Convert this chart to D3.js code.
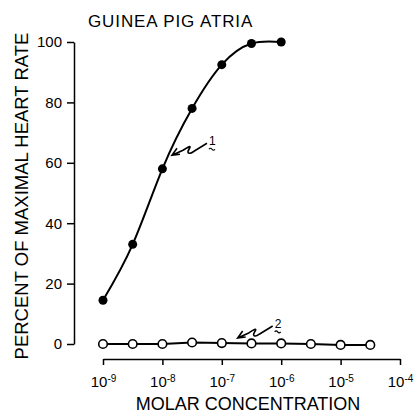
<!DOCTYPE html>
<html>
<head>
<meta charset="utf-8">
<script src="https://cdn.jsdelivr.net/npm/d3@7"></script>
<style>
  body { margin: 0; background: #fff; }
  svg { display: block; font-family: "Liberation Sans", Arial, sans-serif; }
  .axis path, .axis line { stroke: #000; stroke-width: 1.5; }
  .axis text { fill: #000; }
</style>
</head>
<body>
<svg id="chart" width="415" height="413"></svg>
<script>
// data
const xTickValues = [1e-9, 1e-8, 1e-7, 1e-6, 1e-5, 1e-4];
const xTickExponents = ["-9", "-8", "-7", "-6", "-5", "-4"];
const yTickValues = [0, 20, 40, 60, 80, 100];

// curve 1 (filled circles)
const conc1 = [1e-9, 3.16e-9, 1e-8, 3.16e-8, 1e-7, 3.16e-7, 1e-6];
const rate1 = [14.5, 33, 58, 78, 92.5, 99.5, 100];

// curve 2 (open circles)
const conc2 = [1e-9, 3.16e-9, 1e-8, 3.16e-8, 1e-7, 3.16e-7, 1e-6, 3.16e-6, 1e-5, 3.16e-5];
const rate2 = [0, 0, 0, 0.5, 0.3, 0.2, 0.2, 0, -0.3, -0.3];

// labels with wavy arrows: tip of arrow in data space
const notes = [
  {label: "1", conc: 1.45e-8, rate: 62.5},
  {label: "2", conc: 1.85e-7, rate: 2}
];

const svg = d3.select("#chart");

const yAxisX = 74, xAxisY = 359;
const x = d3.scaleLog().domain([1e-9, 1e-4]).range([103, 400]);
const y = d3.scaleLinear().domain([0, 100]).range([344, 42]);

// y axis
let gy = svg.append("g").attr("class", "axis")
  .attr("transform", `translate(${yAxisX},0)`)
  .call(d3.axisLeft(y).tickValues(yTickValues).tickSize(7).tickSizeOuter(0).tickPadding(5));
gy.selectAll("text").attr("font-size", 15);

// x axis, labels as 10 with superscript exponent
let gx = svg.append("g").attr("class", "axis")
  .attr("transform", `translate(0,${xAxisY})`)
  .call(d3.axisBottom(x).tickValues(xTickValues).tickSize(6).tickSizeOuter(0).tickPadding(11)
    .tickFormat(() => ""));
gx.selectAll(".tick text").each(function (d, i) {
  let t = d3.select(this).attr("font-size", 15).attr("text-anchor", "middle");
  t.append("tspan").text("10");
  t.append("tspan").attr("dy", "-0.45em").attr("font-size", 10).text(xTickExponents[i]);
});

// titles
svg.append("text").attr("x", 88).attr("y", 27).attr("font-size", 17)
  .attr("letter-spacing", 0.9).text("GUINEA PIG ATRIA");
svg.append("text").attr("x", 248).attr("y", 410).attr("font-size", 18)
  .attr("text-anchor", "middle").text("MOLAR CONCENTRATION");
svg.append("text").attr("transform", "translate(28,196) rotate(-90)")
  .attr("font-size", 18.5).attr("text-anchor", "middle").text("PERCENT OF MAXIMAL HEART RATE");

// curves
const pts1 = conc1.map((c, i) => [c, rate1[i]]);
const pts2 = conc2.map((c, i) => [c, rate2[i]]);

svg.append("path").datum(pts1)
  .attr("d", d3.line().x(d => x(d[0])).y(d => y(d[1])).curve(d3.curveNatural))
  .attr("fill", "none").attr("stroke", "#000").attr("stroke-width", 2);

svg.append("path").datum(pts2)
  .attr("d", d3.line().x(d => x(d[0])).y(d => y(d[1])))
  .attr("fill", "none").attr("stroke", "#000").attr("stroke-width", 2);

svg.append("g").selectAll("circle").data(pts1).join("circle")
  .attr("cx", d => x(d[0])).attr("cy", d => y(d[1])).attr("r", 4.5)
  .attr("fill", "#000");

svg.append("g").selectAll("circle").data(pts2).join("circle")
  .attr("cx", d => x(d[0])).attr("cy", d => y(d[1])).attr("r", 4.3)
  .attr("fill", "#fff").attr("stroke", "#000").attr("stroke-width", 1.6);

// wavy arrows with underlined numbers
let ng = svg.append("g").selectAll("g").data(notes).join("g")
  .attr("transform", d => `translate(${x(d.conc)},${y(d.rate)})`);
ng.append("path")
  .attr("d", "M0,0 L11,-5 C16,-8 20,-11 17,-6 C14,-1 18,-1 22,-4 L35,-12 M5,-7 L0,0 L8,-1")
  .attr("fill", "none").attr("stroke", "#000").attr("stroke-width", 1.6);
ng.append("text").attr("x", 37).attr("y", -10).attr("font-size", 12).text(d => d.label);
ng.append("path").attr("d", "M37,-6 q1.5,-2 3,0 t3,0")
  .attr("fill", "none").attr("stroke", "#000").attr("stroke-width", 1.2);
</script>
</body>
</html>
